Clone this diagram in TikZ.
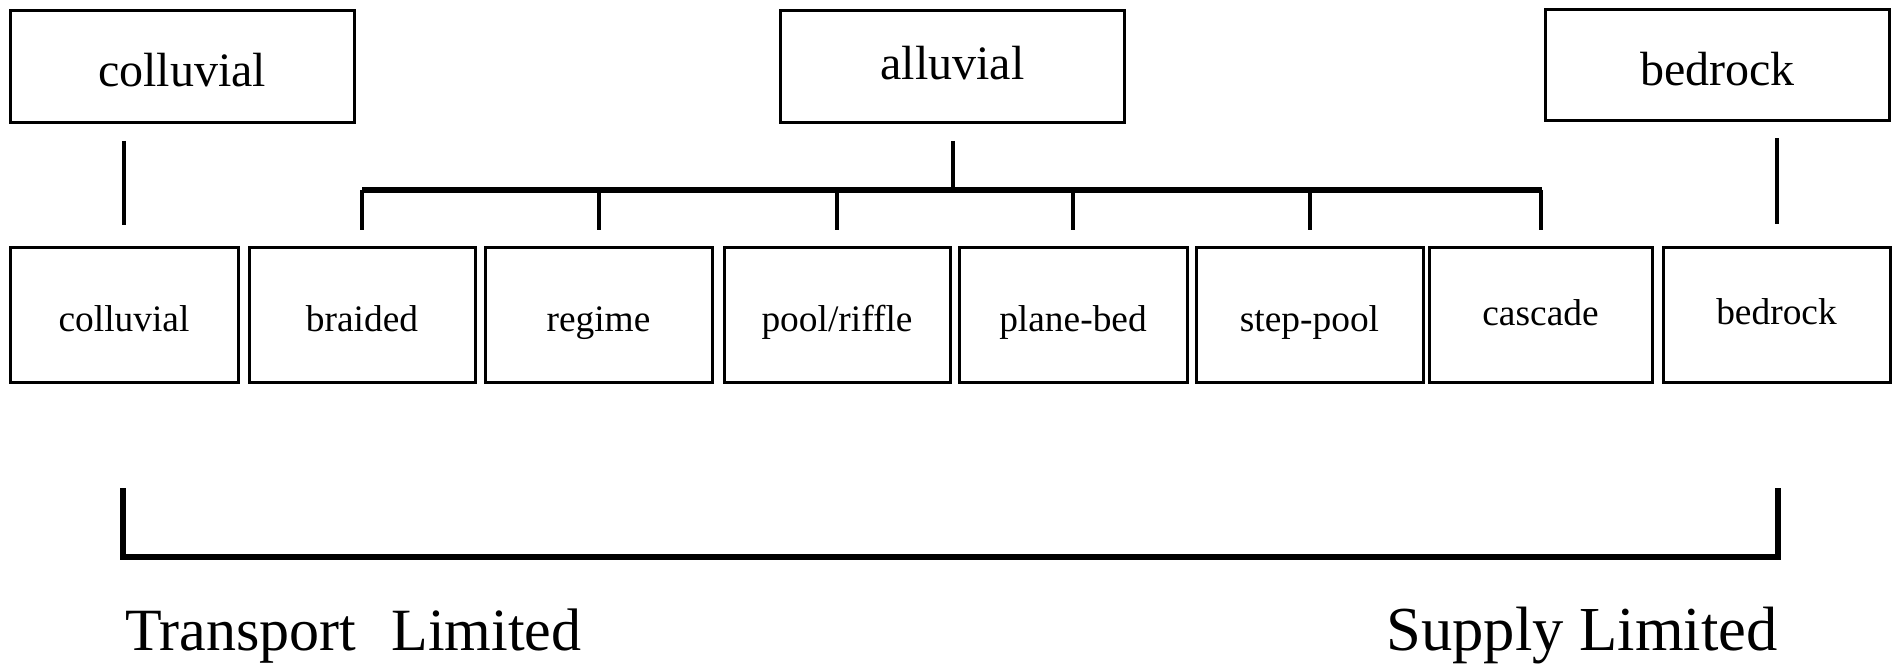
\documentclass[tikz,border=0pt]{standalone}
\usepackage{fontspec}
\setmainfont{Liberation Serif}
\begin{document}
\begin{tikzpicture}[x=0.5pt,y=-0.5pt,
  topbox/.style={draw,line width=1.5pt,inner sep=0pt,minimum width=172pt,minimum height=56pt,text height=24pt,text depth=4pt,font=\fontsize{24}{28}\selectfont},
  botbox/.style={draw,line width=1.5pt,inner sep=0pt,minimum height=67pt,text height=20pt,text depth=3pt,font=\fontsize{18.7}{22}\selectfont},
  link/.style={line width=2pt},
  barline/.style={line width=2.6pt},
  bracket/.style={line width=3pt},
  endlabel/.style={inner sep=0pt}]
\useasboundingbox (0,0) rectangle (1896,668);
% top boxes
\node[topbox] (tcol) at (182,66.5) {colluvial};
\node[topbox,text depth=10.5pt] (tall) at (952.5,66.5) {alluvial};
\node[topbox,minimum height=55.5pt] (tbed) at (1717.5,65.5) {bedrock};
% bottom boxes
\node[botbox,minimum width=114pt] (bcol) at (124,315) {colluvial};
\node[botbox,minimum width=113pt] (bbra) at (362,315) {braided};
\node[botbox,minimum width=113.5pt] (breg) at (598.5,315) {regime};
\node[botbox,minimum width=113pt] (bpoo) at (837,315) {pool/riffle};
\node[botbox,minimum width=114pt] (bpla) at (1073,315) {plane-bed};
\node[botbox,minimum width=113.5pt] (bste) at (1309.5,315) {step-pool};
\node[botbox,minimum width=111.5pt,text depth=9pt] (bcas) at (1540.5,315) {cascade};
\node[botbox,minimum width=113.5pt,text depth=10pt] (bbed) at (1776.5,315) {bedrock};
% colluvial and bedrock links
\draw[link] ([yshift=-8.5pt]tcol.south -| bcol.north) -- ([yshift=10.5pt]bcol.north);
\draw[link] ([yshift=-8pt]tbed.south -| bbed.north) -- ([yshift=11pt]bbed.north);
% alluvial tree
\coordinate (barL) at (362,190);
\coordinate (barR) at (1542,190);
\draw[barline] (barL) -- (barR);
\draw[link] ([yshift=-8.5pt]tall.south) -- (tall.south |- barL);
\foreach \n in {bbra,breg,bpoo,bpla,bste,bcas}{
  \draw[link] (\n.north |- barL) -- ([yshift=8pt]\n.north);
}
% bracket
\coordinate (brTL) at (123,488);
\coordinate (brBL) at (123,557);
\coordinate (brBR) at (1778,557);
\coordinate (brTR) at (1778,488);
\draw[bracket] (brTL) -- (brBL) -- (brBR) -- (brTR);
\node[endlabel,anchor=base west,font=\fontsize{30}{34}\selectfont] (tl) at (125,650) {Transport\hspace{17.5pt}Limited};
\node[endlabel,anchor=base east,font=\fontsize{31.3}{36}\selectfont] (sl) at (1778,650) {Supply Limited};
\end{tikzpicture}
\end{document}
